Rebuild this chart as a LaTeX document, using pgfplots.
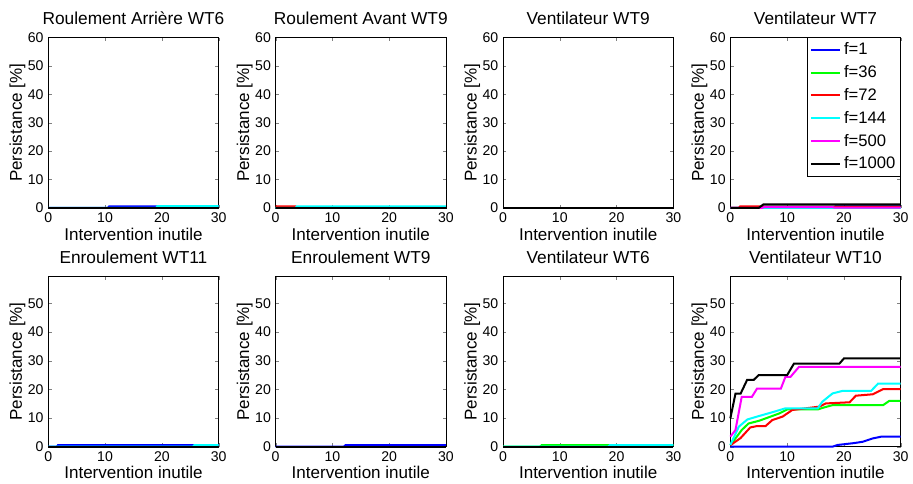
\documentclass[border=0pt]{standalone}
\usepackage{pgfplots}
\pgfplotsset{compat=1.18}
\usepgfplotslibrary{groupplots}
\usepackage{fontspec}
\setmainfont{Liberation Sans}

\definecolor{mblue}{rgb}{0,0,1}
\definecolor{mgreen}{rgb}{0,1,0}
\definecolor{mred}{rgb}{1,0,0}
\definecolor{mcyan}{rgb}{0,1,1}
\definecolor{mpink}{rgb}{1,0,1}

\pgfplotsset{
  every axis/.append style={
    scale only axis, width=127pt, height=127pt,
    xmin=0, xmax=30, xtick={0,10,20,30},
    ymin=0,
    tick align=inside, major tick length=2.5pt,
    tick label style={font=\fontsize{10.5}{12}\selectfont},
    /pgf/number format/assume math mode=true,
    label style={font=\fontsize{12.7}{14}\selectfont},
    title style={font=\fontsize{12.9}{15}\selectfont, yshift=0pt},
    xlabel={Intervention inutile},
    ylabel={Persistance [\%]},
    xlabel style={yshift=3pt},
    ylabel style={yshift=-5pt},
    clip=false,
    legend image code/.code={\draw[#1] (0pt,0pt) -- (22pt,0pt);},
  },
  s1/.style={mblue, line width=1.5pt},
  s2/.style={mgreen, line width=1.5pt},
  s3/.style={mred, line width=1.5pt},
  s4/.style={mcyan, line width=1.5pt},
  s5/.style={mpink, line width=1.5pt},
  s6/.style={black, line width=1.5pt},
  toprow/.style={ymax=60, ytick={0,10,...,60}},
  botrow/.style={ymax=59.5, ytick={0,10,...,50}},
}

\begin{document}
\begin{tikzpicture}
\begin{groupplot}[group style={group size=4 by 2, horizontal sep=42.5pt, vertical sep=51pt}]

% Roulement Arriere WT6
\nextgroupplot[toprow, title={Roulement Arrière WT6}]
\addplot[s1] coordinates {(0,0) (10.5,0) (10.7,0.5) (30,0.5)};
\addplot[s2] coordinates {(0,0) (30,0)};
\addplot[s3] coordinates {(0,0) (30,0)};
\addplot[s4] coordinates {(0,0) (19,0) (19.2,0.6) (30,0.6)};
\addplot[s5] coordinates {(0,0) (30,0)};
\addplot[s6] coordinates {(0,0) (30,0)};

% Roulement Avant WT9
\nextgroupplot[toprow, title={Roulement Avant WT9}]
\addplot[s1] coordinates {(0,0) (30,0)};
\addplot[s2] coordinates {(0,0) (30,0)};
\addplot[s3] coordinates {(0,0.5) (3.5,0.5) (3.7,0) (30,0)};
\addplot[s4] coordinates {(0,0) (3.5,0) (3.7,0.5) (30,0.5)};
\addplot[s5] coordinates {(0,0) (30,0)};
\addplot[s6] coordinates {(0,0) (30,0)};

% Ventilateur WT9
\nextgroupplot[toprow, title={Ventilateur WT9}]
\addplot[s1] coordinates {(0,0) (30,0)};
\addplot[s2] coordinates {(0,0) (30,0)};
\addplot[s3] coordinates {(0,0) (30,0)};
\addplot[s4] coordinates {(0,0) (30,0)};
\addplot[s5] coordinates {(0,0) (30,0)};
\addplot[s6] coordinates {(0,0) (30,0)};

% Ventilateur WT7
\nextgroupplot[toprow, title={Ventilateur WT7},
  legend cell align=left,
  legend style={at={(1,1)}, anchor=north east, draw=black, outer sep=0pt,
    font=\fontsize{12.4}{14}\selectfont, inner sep=2pt, row sep=2.5pt}]
\addplot[s1] coordinates {(0,0) (18,0) (18.5,0.5) (30,0.5)};
\addlegendentry{f=1}
\addplot[s2] coordinates {(0,0) (30,0)};
\addlegendentry{f=36}
\addplot[s3] coordinates {(0,0) (1.5,0) (1.7,0.5) (5.5,0.5) (6,0.3) (30,0.3)};
\addlegendentry{f=72}
\addplot[s4] coordinates {(0,0) (30,0)};
\addlegendentry{f=144}
\addplot[s5] coordinates {(0,0) (5.5,0) (6,0.3) (18,0.3) (18.3,0.1) (30,0.1)};
\addlegendentry{f=500}
\addplot[s6] coordinates {(0,0) (5,0) (5.8,1.2) (30,1.2)};
\addlegendentry{f=1000}

% Enroulement WT11
\nextgroupplot[botrow, title={Enroulement WT11}]
\addplot[s1] coordinates {(0,0) (1.5,0) (1.7,0.5) (30,0.5)};
\addplot[s2] coordinates {(0,0) (30,0)};
\addplot[s3] coordinates {(0,0) (30,0)};
\addplot[s4] coordinates {(0,0) (25.5,0) (25.7,0.5) (30,0.5)};
\addplot[s5] coordinates {(0,0) (30,0)};
\addplot[s6] coordinates {(0,0) (30,0)};

% Enroulement WT9
\nextgroupplot[botrow, title={Enroulement WT9}]
\addplot[s1] coordinates {(0,0) (12,0) (12.3,0.5) (30,0.5)};
\addplot[s2] coordinates {(0,0) (30,0)};
\addplot[s3] coordinates {(0,0) (30,0)};
\addplot[s4] coordinates {(0,0) (30,0)};
\addplot[s5] coordinates {(0,0) (30,0)};
\addplot[s6] coordinates {(0,0) (30,0)};

% Ventilateur WT6
\nextgroupplot[botrow, title={Ventilateur WT6}]
\addplot[s1] coordinates {(0,0) (30,0)};
\addplot[s2] coordinates {(0,0) (6.5,0) (6.8,0.5) (30,0.5)};
\addplot[s3] coordinates {(0,0) (30,0)};
\addplot[s4] coordinates {(0,0) (18.5,0) (18.8,0.5) (30,0.5)};
\addplot[s5] coordinates {(0,0) (30,0)};
\addplot[s6] coordinates {(0,0) (30,0)};

% Ventilateur WT10
\nextgroupplot[botrow, title={Ventilateur WT10}]
\addplot[s1] coordinates {(0,0) (18,0) (18.9,0.6) (21.6,1.2) (23.3,1.7) (25.1,2.9) (26.6,3.5) (30,3.5)};
\addplot[s2] coordinates {(0,0.5) (2,5.8) (3.2,8.1) (5,9) (8.6,11.6) (10,13) (15.4,13) (16.5,13.7) (18,14.5) (26.9,14.5) (28,16) (30,16)};
\addplot[s3] coordinates {(0,0.5) (1.8,3) (3.5,6.7) (4.7,7.2) (6.2,7.2) (7.4,9.3) (9.2,10.5) (10.9,12.8) (13.3,13.4) (15.7,14) (16.8,15.1) (21,15.5) (22.1,17.8) (25.1,18.3) (26.9,20.1) (30,20.1)};
\addplot[s4] coordinates {(0,0.6) (1.5,7) (3,9.5) (4.7,10.5) (7.7,12.2) (9.7,13.4) (15.4,13.4) (16.2,15.7) (18,18.6) (19.8,19.5) (24.8,19.5) (26,22) (30,22)};
\addplot[s5] coordinates {(0,3.5) (0.9,5.8) (2,17.4) (3.8,17.4) (4.7,20.3) (8.9,20.3) (9.7,24.4) (10.6,24.4) (12.1,27.9) (30,27.9)};
\addplot[s6] coordinates {(0,9.9) (0.9,18.5) (1.8,18.5) (2.95,23.3) (4.1,23.3) (5,25) (10,25) (11.2,29) (19.2,29) (20,30.8) (30,30.8)};

\end{groupplot}
% extend the page to the reference margins
\path (group c1r1.north west) ++(-36pt,28pt);
\end{tikzpicture}
\end{document}
